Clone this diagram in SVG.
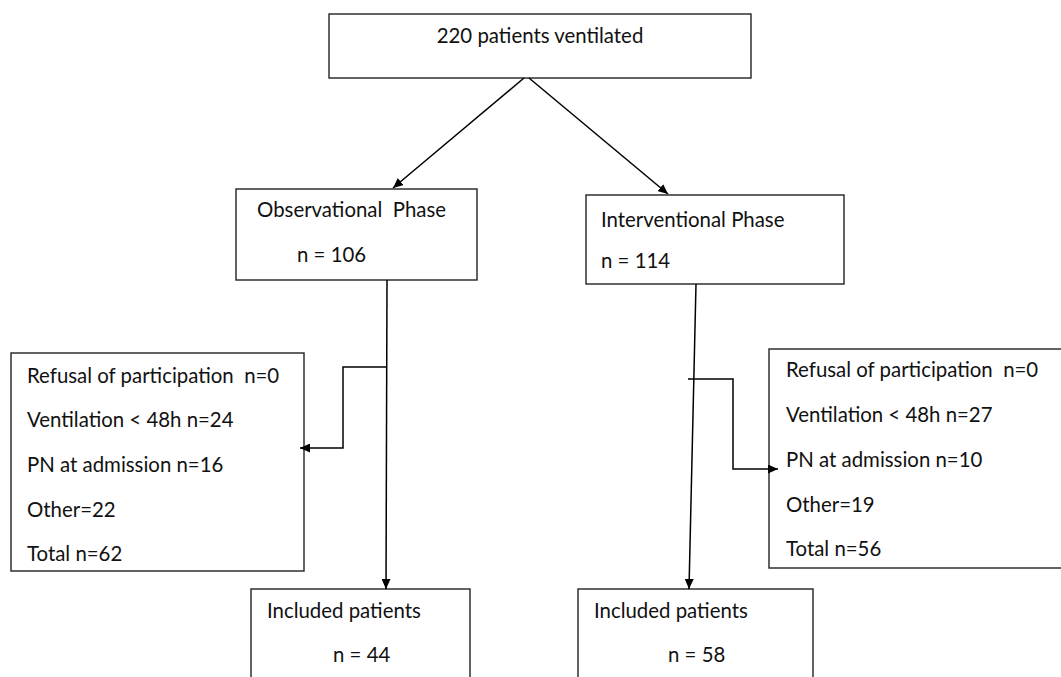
<svg xmlns="http://www.w3.org/2000/svg" width="1061" height="677" viewBox="0 0 1061 677">
<style>
.box{fill:#fff;stroke:#222;stroke-width:1.4}
.t{font-family:Lato,"Liberation Sans",sans-serif;font-size:20.4px;fill:#111}
.c{fill:none;stroke:#000;stroke-width:1.5}
</style>
<defs>
<marker id="ah" markerUnits="userSpaceOnUse" markerWidth="11" markerHeight="9" refX="10" refY="4.5" orient="auto">
<path d="M0,0 L10,4.5 L0,9 z" fill="#000"/>
</marker>
</defs>
<rect width="1061" height="677" fill="#fff"/>
<g id="top">
<rect class="box" x="329" y="14" width="422" height="64"/>
<text class="t" x="540" y="43" text-anchor="middle">220 patients ventilated</text>
</g>
<g id="obs">
<rect class="box" x="236" y="189" width="241" height="91"/>
<text class="t" x="257" y="217" xml:space="preserve">Observational  Phase</text>
<text class="t" x="297" y="262">n = 106</text>
</g>
<g id="int">
<rect class="box" x="586" y="195" width="258" height="89"/>
<text class="t" x="601" y="227">Interventional Phase</text>
<text class="t" x="601" y="268">n = 114</text>
</g>
<g id="exclL">
<rect class="box" x="11" y="353" width="293" height="218"/>
<text class="t" x="27" y="383" xml:space="preserve">Refusal of participation  n=0</text>
<text class="t" x="27" y="427">Ventilation &lt; 48h n=24</text>
<text class="t" x="27" y="472">PN at admission n=16</text>
<text class="t" x="27" y="517">Other=22</text>
<text class="t" x="27" y="561">Total n=62</text>
</g>
<g id="exclR">
<rect class="box" x="769" y="349" width="294" height="219"/>
<text class="t" x="786" y="377" xml:space="preserve">Refusal of participation  n=0</text>
<text class="t" x="786" y="422">Ventilation &lt; 48h n=27</text>
<text class="t" x="786" y="467">PN at admission n=10</text>
<text class="t" x="786" y="512">Other=19</text>
<text class="t" x="786" y="556">Total n=56</text>
</g>
<g id="inclL">
<rect class="box" x="251" y="589" width="219" height="100"/>
<text class="t" x="267" y="618">Included patients</text>
<text class="t" x="333" y="662">n = 44</text>
</g>
<g id="inclR">
<rect class="box" x="578" y="589" width="235" height="100"/>
<text class="t" x="594" y="618">Included patients</text>
<text class="t" x="668" y="662">n = 58</text>
</g>
<g id="connectors">
<line class="c" x1="524" y1="78" x2="393" y2="188" marker-end="url(#ah)"/>
<line class="c" x1="529" y1="78" x2="668" y2="194" marker-end="url(#ah)"/>
<line class="c" x1="387" y1="280" x2="386" y2="589" marker-end="url(#ah)"/>
<line class="c" x1="696" y1="284" x2="689" y2="589" marker-end="url(#ah)"/>
<path class="c" d="M387,367 H343 V448 H300" marker-end="url(#ah)"/>
<path class="c" d="M688,379 H733 V469 H778" marker-end="url(#ah)"/>
</g>
</svg>
